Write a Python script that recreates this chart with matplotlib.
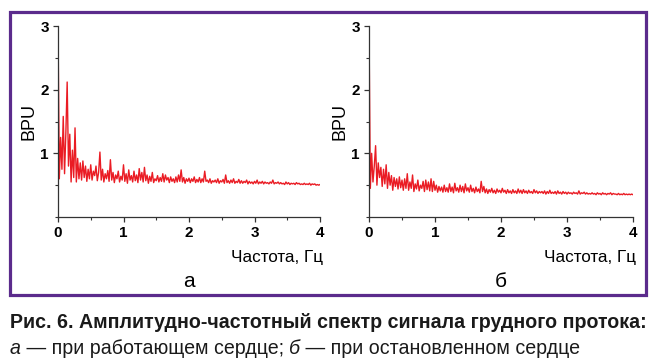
import matplotlib
matplotlib.use("Agg")
import matplotlib.pyplot as plt
from matplotlib.patches import Rectangle
from matplotlib.ticker import MultipleLocator
from matplotlib import font_manager

# ---------------- data ----------------
freq_step = 0.02  # Hz between samples
bpu_a = [
    3.00, 0.60, 1.25, 0.75, 1.58, 0.68, 1.32, 2.12, 0.80, 1.30,
    0.55, 1.05, 0.62, 1.40, 0.55, 0.92, 0.60, 0.85, 0.58, 0.88,
    0.62, 0.80, 0.56, 0.75, 0.60, 0.82, 0.58, 0.72, 0.65, 0.80,
    0.57, 0.70, 1.02, 0.58, 0.75, 0.55, 0.68, 0.60, 0.73, 0.56,
    0.90, 0.58, 0.70, 0.54, 0.66, 0.60, 0.72, 0.55, 0.64, 0.58,
    0.82, 0.56, 0.68, 0.53, 0.74, 0.58, 0.65, 0.55, 0.72, 0.57,
    0.66, 0.54, 0.76, 0.58, 0.70, 0.55, 0.78, 0.57, 0.66, 0.53,
    0.64, 0.56, 0.70, 0.54, 0.60, 0.57, 0.65, 0.55, 0.62, 0.56,
    0.68, 0.55, 0.66, 0.58, 0.62, 0.54, 0.63, 0.56, 0.60, 0.54,
    0.63, 0.55, 0.66, 0.56, 0.74, 0.55, 0.62, 0.53, 0.60, 0.56,
    0.61, 0.54, 0.60, 0.56, 0.63, 0.54, 0.59, 0.55, 0.62, 0.54,
    0.60, 0.55, 0.72, 0.56, 0.58, 0.54, 0.60, 0.53, 0.57, 0.55,
    0.58, 0.54, 0.60, 0.53, 0.57, 0.55, 0.59, 0.53, 0.66, 0.54,
    0.57, 0.53, 0.58, 0.54, 0.60, 0.53, 0.56, 0.54, 0.59, 0.53,
    0.57, 0.53, 0.56, 0.54, 0.58, 0.52, 0.56, 0.53, 0.55, 0.52,
    0.56, 0.53, 0.58, 0.52, 0.55, 0.53, 0.56, 0.52, 0.55, 0.53,
    0.54, 0.52, 0.55, 0.53, 0.58, 0.52, 0.54, 0.53, 0.55, 0.52,
    0.54, 0.52, 0.53, 0.51, 0.55, 0.52, 0.54, 0.51, 0.53, 0.52,
    0.53, 0.51, 0.54, 0.52, 0.53, 0.51, 0.52, 0.51, 0.53, 0.51,
    0.52, 0.51, 0.53, 0.50, 0.52, 0.51, 0.52, 0.50, 0.51, 0.50,
    0.51,
]
bpu_b = [
    3.00, 0.45, 1.00, 0.55, 0.80, 1.12, 0.50, 0.85, 0.62, 0.78,
    0.48, 0.75, 0.52, 0.82, 0.45, 0.70, 0.50, 0.65, 0.42, 0.62,
    0.48, 0.60, 0.44, 0.63, 0.46, 0.58, 0.42, 0.60, 0.45, 0.68,
    0.42, 0.55, 0.45, 0.66, 0.40, 0.52, 0.44, 0.58, 0.41, 0.50,
    0.45, 0.56, 0.40, 0.58, 0.43, 0.55, 0.41, 0.60, 0.40, 0.56,
    0.42, 0.50, 0.39, 0.48, 0.41, 0.47, 0.39, 0.50, 0.40, 0.46,
    0.39, 0.52, 0.40, 0.47, 0.38, 0.53, 0.41, 0.46, 0.39, 0.50,
    0.40, 0.48, 0.38, 0.52, 0.41, 0.46, 0.39, 0.50, 0.40, 0.45,
    0.38, 0.47, 0.40, 0.44, 0.38, 0.56, 0.40, 0.48, 0.38, 0.44,
    0.37, 0.43, 0.39, 0.45, 0.38, 0.42, 0.37, 0.44, 0.39, 0.42,
    0.38, 0.45, 0.39, 0.42, 0.37, 0.43, 0.38, 0.41, 0.37, 0.43,
    0.38, 0.41, 0.37, 0.44, 0.38, 0.42, 0.37, 0.43, 0.38, 0.41,
    0.37, 0.42, 0.38, 0.40, 0.37, 0.43, 0.38, 0.41, 0.37, 0.40,
    0.38, 0.40, 0.37, 0.41, 0.36, 0.40, 0.37, 0.42, 0.37, 0.39,
    0.37, 0.40, 0.36, 0.41, 0.37, 0.39, 0.36, 0.40, 0.37, 0.39,
    0.36, 0.39, 0.37, 0.38, 0.36, 0.39, 0.37, 0.38, 0.36, 0.41,
    0.36, 0.38, 0.37, 0.39, 0.36, 0.38, 0.36, 0.37, 0.36, 0.38,
    0.36, 0.37, 0.35, 0.38, 0.36, 0.37, 0.35, 0.38, 0.36, 0.37,
    0.35, 0.37, 0.36, 0.38, 0.35, 0.37, 0.36, 0.36, 0.35, 0.37,
    0.35, 0.36, 0.35, 0.37, 0.35, 0.36, 0.35, 0.36, 0.35, 0.36,
    0.35,
]
x_ticks = [0, 1, 2, 3, 4]
y_ticks = [1, 2, 3]
panel_labels = ["а", "б"]
x_label = "Частота, Гц"
y_label = "BPU"
caption1 = "Рис. 6. Амплитудно-частотный спектр сигнала грудного протока:"
caption2_parts = [("а", True), (" — при работающем сердце; ", False),
                  ("б", True), (" — при остановленном сердце", False)]

freq_a = [i * freq_step for i in range(len(bpu_a))]
freq_b = [i * freq_step for i in range(len(bpu_b))]

# ---------------- figure ----------------
W, H = 657, 363
fig = plt.figure(figsize=(W / 100, H / 100), dpi=100)
plt.rcParams['font.family'] = ['Liberation Sans', 'DejaVu Sans']

line_color = "#ea1c24"
purple = "#5b2b8c"

# frame
fig.patches.append(Rectangle((10 / W, (H - 295) / H), 636 / W, 283 / H,
                             transform=fig.transFigure, fill=False,
                             edgecolor=purple, linewidth=2.3))

def make_panel(left_px, right_px, xs, ys, label):
    ax = fig.add_axes([left_px / W, (H - 217) / H, (right_px - left_px) / W, 191 / H])
    ax.plot(xs, ys, color=line_color, linewidth=1.0)
    ax.set_xlim(0, 4)
    ax.set_ylim(0, 3)
    ax.set_xticks(x_ticks)
    ax.set_yticks(y_ticks)
    ax.xaxis.set_minor_locator(MultipleLocator(0.5))
    ax.yaxis.set_minor_locator(MultipleLocator(0.5))
    for s in ["top", "right"]:
        ax.spines[s].set_visible(False)
    for s in ["left", "bottom"]:
        ax.spines[s].set_color("#333333")
        ax.spines[s].set_linewidth(0.9)
    ax.tick_params(which="major", length=3.5, width=0.9, color="#333333",
                   labelsize=11, pad=3)
    ax.tick_params(which="minor", length=2, width=0.8, color="#333333")
    for t in ax.get_xticklabels() + ax.get_yticklabels():
        t.set_fontweight("bold")
    ax.patch.set_alpha(0)
    ax.set_ylabel(y_label, fontsize=13, labelpad=2)
    ax.text(1.01, -0.21, x_label, transform=ax.transAxes, ha="right",
            va="center", fontsize=12.3)
    ax.text(0.5, -0.34, label, transform=ax.transAxes, ha="center",
            va="center", fontsize=15)
    return ax

make_panel(58, 320, freq_a, bpu_a, panel_labels[0])
make_panel(369, 633, freq_b, bpu_b, panel_labels[1])

fig.text(10 / W, 1 - 322 / H, caption1, fontsize=14.1, fontweight="bold",
         ha="left", va="center", color="#1a1a1a")

renderer = fig.canvas.get_renderer()
x = 10 / W
for txt, ital in caption2_parts:
    t = fig.text(x, 1 - 348 / H, txt, fontsize=14.1,
                 style="italic" if ital else "normal", ha="left", va="center",
                 color="#1a1a1a")
    bb = t.get_window_extent(renderer=renderer)
    x += bb.width / W

fig.savefig("out.png", dpi=100)
